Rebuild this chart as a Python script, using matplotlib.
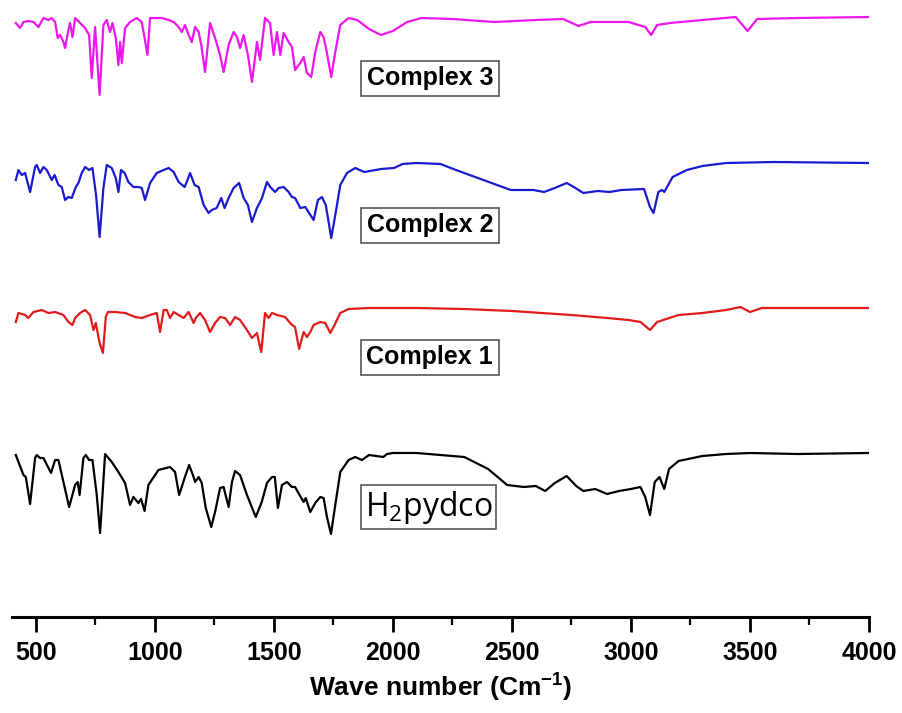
import matplotlib
matplotlib.use("Agg")
import matplotlib.pyplot as plt

# IR spectra (wave number, transmittance a.u.)
h2pydco_wn = [416, 448, 458, 476, 497, 504, 518, 532, 564, 581, 595, 616, 640, 665, 676, 684, 700, 710, 724, 738,
              756, 770, 791, 819, 847, 875, 896, 910, 931, 942, 957, 973, 1015, 1064, 1085, 1102, 1125, 1144, 1163, 1169,
              1184, 1197, 1214, 1237, 1253, 1274, 1289, 1295, 1310, 1324, 1337, 1358, 1387, 1424, 1449, 1471, 1492, 1504, 1517, 1534,
              1555, 1576, 1589, 1608, 1625, 1634, 1653, 1674, 1695, 1709, 1723, 1740, 1758, 1779, 1814, 1842,
              1870, 1900, 1960, 1975, 2000, 2100, 2300, 2400, 2480, 2550, 2600, 2640, 2680, 2730, 2770, 2800, 2850, 2900, 2950, 3000,
              3040, 3060, 3080, 3100, 3120, 3140, 3160, 3200, 3300, 3400, 3500, 3700, 4000]
h2pydco_t = [162, 142, 140, 113, 159, 162, 159, 159, 144, 157, 157, 135, 110, 132, 135, 122, 159, 162, 157, 157,
             122, 84, 163, 155, 145, 134, 112, 120, 114, 118, 106, 132, 147, 150, 145, 122, 139, 152, 140, 135,
             140, 134, 109, 90, 105, 129, 130, 124, 110, 135, 146, 142, 122, 100, 115, 134, 140, 140, 109, 132,
             135, 130, 130, 122, 115, 119, 105, 114, 120, 119, 100, 83, 112, 145, 157, 160,
             157, 162, 160, 163, 164, 164, 160, 148, 132, 130, 131, 126, 134, 141, 131, 126, 128, 123, 126, 128,
             130, 120, 102, 135, 140, 128, 148, 156, 161, 163, 164, 163, 164]

c1_wn = [416, 427, 455, 469, 490, 525, 553, 581, 616, 637, 654, 665, 686, 707, 728, 742, 752, 768, 782, 794,
         803, 833, 875, 917, 945, 980, 1008, 1022, 1037, 1050, 1064, 1079, 1100, 1121, 1142, 1163, 1172, 1190, 1211, 1232,
         1253, 1274, 1295, 1316, 1337, 1358, 1387, 1408, 1429, 1447, 1463, 1478, 1492, 1513, 1547, 1576, 1589, 1606, 1625, 1639,
         1653, 1667, 1695, 1716, 1737, 1755, 1779, 1814,
         1900, 2100, 2300, 2500, 2750, 2900, 2990, 3040, 3080, 3110, 3200, 3300, 3400, 3460, 3500, 3550, 3700, 4000]
c1_t = [150, 159, 157, 154, 160, 162, 159, 160, 157, 150, 147, 154, 159, 162, 157, 142, 149, 129, 119, 155,
        160, 160, 159, 155, 154, 157, 159, 140, 162, 162, 154, 160, 157, 154, 160, 149, 154, 159, 152, 140,
        149, 155, 154, 147, 155, 152, 142, 134, 139, 120, 159, 154, 159, 157, 155, 147, 145, 123, 140, 135,
        140, 147, 150, 149, 139, 147, 159, 163,
        164, 164, 163, 161, 157, 154, 152, 150, 142, 150, 157, 159, 162, 165, 160, 164, 164, 164]

c2_wn = [416, 427, 441, 455, 476, 497, 504, 518, 532, 546, 567, 579, 595, 609, 623, 637, 651, 668, 679, 693,
         707, 724, 738, 753, 768, 784, 798, 819, 836, 847, 858, 873, 889, 910, 931, 945, 959, 980, 1008, 1037,
         1058, 1079, 1100, 1125, 1134, 1148, 1167, 1184, 1205, 1226, 1239, 1260, 1279, 1293, 1310, 1331, 1354, 1373, 1391, 1408,
         1429, 1450, 1471, 1485, 1505, 1520, 1541, 1562, 1576, 1589, 1611, 1632, 1648, 1667, 1685, 1702, 1718, 1730, 1741, 1758,
         1779, 1807, 1842,
         1860, 1880, 1950, 2005, 2040, 2100, 2200, 2265, 2380, 2495, 2590, 2635, 2680, 2730, 2760, 2800, 2860, 2910, 2960, 3055,
         3080, 3095, 3115, 3130, 3140, 3175, 3235, 3300, 3400, 3600, 4000]
c2_t = [147, 157, 152, 154, 135, 160, 162, 154, 160, 157, 147, 152, 142, 140, 127, 130, 129, 140, 144, 154,
        160, 157, 159, 132, 90, 139, 162, 159, 149, 135, 157, 154, 145, 140, 140, 139, 127, 144, 154, 157,
        159, 155, 145, 140, 145, 154, 142, 140, 122, 114, 117, 119, 129, 119, 129, 139, 144, 129, 122, 105,
        119, 129, 145, 140, 135, 139, 140, 135, 130, 129, 119, 120, 114, 107, 127, 130, 122, 105, 89, 112,
        142, 154, 159,
        157, 155, 158, 159, 163, 164, 163, 157, 147, 137, 137, 135, 139, 144, 140, 134, 136, 135, 137, 138,
        120, 114, 135, 137, 135, 150, 157, 161, 164, 165, 164]

c3_wn = [416, 434, 448, 469, 490, 511, 532, 553, 567, 581, 592, 602, 616, 623, 637, 644, 654, 665, 686, 707,
         724, 735, 749, 768, 784, 798, 812, 822, 836, 847, 854, 861, 875, 896, 924, 945, 957, 969, 980, 1029,
         1058, 1079, 1100, 1113, 1127, 1142, 1155, 1169, 1184, 1195, 1211, 1232, 1253, 1274, 1289, 1310, 1331, 1345, 1358, 1373,
         1391, 1408, 1429, 1442, 1463, 1484, 1499, 1513, 1527, 1541, 1562, 1576, 1589, 1611, 1625, 1639, 1657, 1674, 1695, 1709,
         1723, 1741, 1758, 1779, 1814,
         1850, 1900, 1950, 2000, 2060, 2120, 2250, 2425, 2600, 2715, 2780, 2830, 2990, 3060, 3085, 3110, 3165, 3300, 3440, 3490,
         3530, 3700, 4000]
c3_t = [159, 154, 160, 161, 160, 155, 164, 162, 164, 160, 144, 147, 140, 134, 152, 159, 145, 164, 159, 154,
        147, 104, 155, 87, 157, 162, 150, 159, 144, 117, 140, 119, 154, 160, 164, 160, 144, 127, 164, 164,
        162, 160, 155, 150, 157, 147, 140, 155, 150, 137, 110, 159, 144, 127, 110, 137, 150, 145, 134, 147,
        127, 100, 140, 122, 164, 159, 127, 150, 127, 149, 140, 135, 112, 119, 125, 109, 105, 130, 150, 145,
        129, 105, 130, 157, 164,
        162, 153, 147, 151, 160, 164, 163, 160, 162, 163, 156, 160, 160, 155, 147, 157, 159, 162, 165, 151,
        163, 164, 165]

series = [
    (h2pydco_wn, h2pydco_t, "black", "H$_2$pydco"),
    (c1_wn, c1_t, "#e01b1b", "Complex 1"),
    (c2_wn, c2_t, "#1a1ad0", "Complex 2"),
    (c3_wn, c3_t, "#ee16ee", "Complex 3"),
]
offsets = [0, 145, 290, 435]
label_y = [110, 260, 392, 539]

plt.rcParams["mathtext.fontset"] = "custom"
plt.rcParams["mathtext.rm"] = "Open Sans"
plt.rcParams["mathtext.bf"] = "Liberation Sans:bold"

bold_font = ["Liberation Sans", "DejaVu Sans"]

fig = plt.figure(figsize=(9.03, 7.13), dpi=100)
ax = fig.add_axes([12 / 903, 96 / 713, 857 / 903, 617 / 713])

for (wn, t, color, name), off, ly in zip(series, offsets, label_y):
    ax.plot(wn, [v + off for v in t], color=color, linewidth=1.6)
    if name.startswith("H"):
        ax.text(2150, ly, name, ha="center", va="center", fontsize=23,
                family=["Open Sans", "DejaVu Sans"],
                bbox=dict(boxstyle="square,pad=0.12", facecolor="white", edgecolor="#555555", linewidth=1.2))
    else:
        ax.text(2155, ly, name, ha="center", va="center", fontsize=18, fontweight="bold",
                family=bold_font,
                bbox=dict(boxstyle="square,pad=0.22", facecolor="white", edgecolor="#555555", linewidth=1.2))

ax.set_xlim(400, 4000)
ax.set_ylim(0, 617)
for s in ["left", "right", "top"]:
    ax.spines[s].set_visible(False)
ax.spines["bottom"].set_linewidth(2.2)
ax.set_yticks([])
ax.set_xticks(range(500, 4001, 500))
ax.set_xticks(range(750, 4000, 500), minor=True)
ax.tick_params(axis="x", which="major", direction="out", length=11, width=2, pad=6)
ax.tick_params(axis="x", which="minor", direction="out", length=6, width=1.6)
for lab in ax.get_xticklabels():
    lab.set_family(bold_font)
    lab.set_fontweight("bold")
    lab.set_fontsize(18)

ax.set_xlabel(r"Wave number (Cm$^{\mathbf{-1}}$)", family=bold_font, fontweight="bold", fontsize=19, labelpad=4)

fig.savefig("out.png", dpi=100)
